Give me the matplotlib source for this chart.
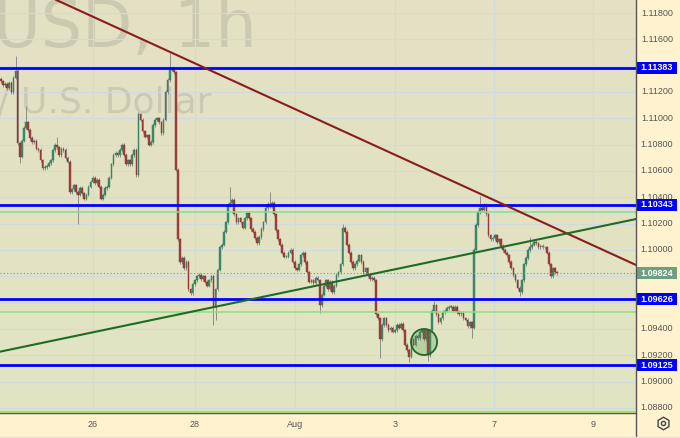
import numpy as np
import matplotlib.pyplot as plt
from matplotlib.patches import Rectangle, Ellipse
from matplotlib import transforms

# hourly closes, EURUSD 1h
closes = [
    1.1128, 1.1125, 1.1126, 1.1123, 1.1127, 1.1120, 1.1131, 1.1136, 1.1081, 1.1071, 1.1083, 1.1093,
    1.1097, 1.1091, 1.1085, 1.1082, 1.1083, 1.1077, 1.1076, 1.1068, 1.1062, 1.1063, 1.1064, 1.1066,
    1.1068, 1.1076, 1.1080, 1.1078, 1.1072, 1.1077, 1.1076, 1.1070, 1.1067, 1.1044, 1.1046, 1.1049,
    1.1044, 1.1042, 1.1047, 1.1043, 1.1039, 1.1042, 1.1048, 1.1052, 1.1055, 1.1051, 1.1053, 1.1048,
    1.1039, 1.1042, 1.1047, 1.1048, 1.1055, 1.1065, 1.1072, 1.1074, 1.1072, 1.1076, 1.1080, 1.1072,
    1.1065, 1.1068, 1.1065, 1.1072, 1.1076, 1.1057, 1.1103, 1.1099, 1.1090, 1.1086, 1.1087, 1.1080,
    1.1082, 1.1095, 1.1099, 1.1100, 1.1097, 1.1089, 1.1099, 1.1120, 1.1129, 1.1137, 1.1138, 1.1135,
    1.1061, 1.1008, 1.0991, 1.0994, 1.0986, 1.0991, 1.0970, 1.0967, 1.0974, 1.0977, 1.0980, 1.0981,
    1.0978, 1.0980, 1.0976, 1.0973, 1.0977, 1.0980, 1.0957, 1.0970, 1.0985, 1.1002, 1.1004, 1.1014,
    1.1021, 1.1034, 1.1036, 1.1038, 1.1027, 1.1021, 1.1024, 1.1021, 1.1017, 1.1024, 1.1028, 1.1024,
    1.1016, 1.1014, 1.1009, 1.1005, 1.1010, 1.1016, 1.1021, 1.1032, 1.1035, 1.1033, 1.1036, 1.1027,
    1.1015, 1.1008, 1.1004, 1.0998, 1.0995, 1.0995, 1.0998, 1.1000, 1.0991, 1.0986, 1.0985, 1.0989,
    1.0996, 1.0998, 1.0991, 1.0983, 1.0976, 1.0977, 1.0975, 1.0979, 1.0977, 1.0958, 1.0966, 1.0973,
    1.0977, 1.0970, 1.0976, 1.0968, 1.0973, 1.0981, 1.0983, 1.0989, 1.1017, 1.1014, 1.1004, 1.0998,
    1.0991, 1.0986, 1.0989, 1.0992, 1.0996, 1.0991, 1.0983, 1.0986, 1.0981, 1.0978, 1.0979, 1.0977,
    1.0951, 1.0948, 1.0932, 1.0943, 1.0948, 1.0943, 1.0939, 1.0941, 1.0938, 1.0939, 1.0943, 1.0941,
    1.0944, 1.0939, 1.0928, 1.0924, 1.0919, 1.0932, 1.0928, 1.0935, 1.0933, 1.0938, 1.0939, 1.0932,
    1.0939, 1.0920, 1.0939, 1.0954, 1.0958, 1.0951, 1.0945, 1.0948, 1.0953, 1.0954, 1.0956, 1.0957,
    1.0957, 1.0954, 1.0957, 1.0953, 1.0951, 1.0952, 1.0948, 1.0947, 1.0942, 1.0945, 1.0941, 1.1000,
    1.1019, 1.1029, 1.1032, 1.1030, 1.1034, 1.1027, 1.1011, 1.1008, 1.1009, 1.1011, 1.1006, 1.1008,
    1.1003, 1.1000, 1.0998, 1.0996, 1.0991, 1.0986, 1.0981, 1.0977, 1.0971, 1.0968, 1.0977, 1.0989,
    1.0994, 1.1000, 1.1002, 1.1004, 1.1006, 1.1005, 1.1002, 1.1003, 1.1002, 1.1002, 1.0998, 1.0989,
    1.0980, 1.0986, 1.0983, 1.09824,
]
first_open = 1.1130

# long wicks that stick out
spike_highs = {7: 1.1147, 12: 1.1109, 27: 1.1086, 66: 1.1105, 81: 1.1150, 110: 1.1048,
               129: 1.1044, 164: 1.1020, 208: 1.0961, 230: 1.1041, 254: 1.1010}
spike_lows = {9: 1.1066, 37: 1.1020, 102: 1.0943, 103: 1.0947, 153: 1.0952, 182: 1.0918,
              196: 1.0915, 205: 1.0916, 226: 1.0933, 249: 1.0965}

# horizontal levels
blue_levels = [1.11383, 1.10343, 1.09626, 1.09125]
mint_level = 1.10290
lime_levels = [1.09530, 1.08770]
last_price = 1.09824

# trend lines (bar, price)
red_trend = [(30, 1.11874), (300, 1.09921)]
green_trend = [(0, 1.09229), (300, 1.10219)]
circle_bar, circle_price = 203.1, 1.09301

grid_prices = [1.088 + 0.002 * k for k in range(16)]
axis_prices = [1.118, 1.116, 1.112, 1.110, 1.108, 1.106, 1.104, 1.102, 1.100,
               1.094, 1.092, 1.090, 1.088]
day_labels = ["26", "28", "Aug", "3", "7", "9"]
day_bars = [44.2, 93.1, 141.1, 189.1, 236.7, 284.2]

W, H = 680, 438
plt.rcParams['font.family'] = ['Liberation Sans', 'DejaVu Sans']
fig = plt.figure(figsize=(W / 100, H / 100), dpi=100, facecolor='#fff2cf')
ax = fig.add_axes([0, 25 / H, 636 / W, 413 / H])
xmin, xmax = -0.48, 304.85
ymin, ymax = 1.087616, 1.118988
ax.set_xlim(xmin, xmax)
ax.set_ylim(ymin, ymax)

# background gradient
grad = np.linspace(0, 1, 256)[:, None]
top = np.array([229, 224, 197]) / 255
bot = np.array([224, 229, 194]) / 255
img = top[None, None, :] * (1 - grad[:, :, None]) + bot[None, None, :] * grad[:, :, None]
ax.imshow(img, extent=[xmin, xmax, ymin, ymax], aspect='auto', origin='upper', zorder=0)

ax.set_yticks(grid_prices)
ax.set_yticklabels([])
ax.set_xticks(day_bars)
ax.set_xticklabels(day_labels)
ax.tick_params(axis='both', length=0)
ax.tick_params(axis='x', pad=5, labelsize=6.5, labelcolor='#555555')
ax.grid(True, color='#cfdbe0', lw=0.8, zorder=0.5)
for s in ['top', 'left', 'right']:
    ax.spines[s].set_visible(False)
ax.spines['bottom'].set_color('#555555')
ax.spines['bottom'].set_linewidth(1.0)

# watermark
ax.text(257 / W, 1 - 47 / H, "EURUSD, 1h", transform=fig.transFigure, ha='right',
        va='baseline', fontsize=47, color='#808078', alpha=0.24, zorder=1,
        family='DejaVu Sans', clip_on=True)
ax.text(211 / W, 1 - 112 / H, "Euro / U.S. Dollar", transform=fig.transFigure, ha='right',
        va='baseline', fontsize=26, color='#808078', alpha=0.24, zorder=1,
        family='DejaVu Sans', clip_on=True)

# candles
c = np.array(closes)
o = np.array([first_open] + closes[:-1])
idx = np.arange(len(c))
pad = 0.00013
hi = np.maximum(o, c) + pad
lo = np.minimum(o, c) - pad
for k, v in spike_highs.items():
    hi[k] = v
for k, v in spike_lows.items():
    lo[k] = v
up = c >= o
ax.vlines(idx, lo, hi, color='#8e8e88', lw=0.7, zorder=2)
body_h = np.maximum(np.abs(c - o), 0.00003)
ax.bar(idx[up], body_h[up], bottom=np.minimum(o, c)[up], width=0.8,
       color='#3f8c6c', edgecolor='#2f7a5a', lw=0.3, zorder=3)
ax.bar(idx[~up], body_h[~up], bottom=np.minimum(o, c)[~up], width=0.8,
       color='#a33f3c', edgecolor='#8a2f2c', lw=0.3, zorder=3)

# levels
for lv in blue_levels:
    ax.axhline(lv, color='#0000ff', lw=2.0, zorder=5)
ax.axhline(mint_level, color='#7fdca6', lw=1.1, zorder=4)
ax.axhline(lime_levels[0], color='#8ee07a', lw=1.1, zorder=4)
ax.axhline(lime_levels[1], color='#a8d878', lw=1.5, zorder=4)
ax.axhline(last_price, color='#6e9f80', lw=0.8, ls=(0, (1, 2)), zorder=4)

# trend lines
ax.axline(red_trend[0], red_trend[1], color='#8b1c1c', lw=1.5, zorder=6)
ax.axline(green_trend[0], green_trend[1], color='#1f6b25', lw=1.5, zorder=6)
ax.add_patch(Ellipse((circle_bar, circle_price), 12.5, 0.00198, facecolor='#3f9a45',
                     alpha=0.25, zorder=6))
ax.add_patch(Ellipse((circle_bar, circle_price), 12.5, 0.00198, facecolor='none',
                     edgecolor='#22672a', lw=1.3, zorder=7))

# price axis
tr = transforms.blended_transform_factory(fig.transFigure, ax.transData)
for p in axis_prices:
    ax.text(657 / W, p, f"{p:.5f}", transform=tr, ha='center', va='center',
            fontsize=6.5, color='#555555', clip_on=False, zorder=8)
box_h = 0.00088
for lv, col in [(b, '#0000ff') for b in blue_levels] + [(last_price, '#6e9f80')]:
    ax.add_patch(Rectangle((637 / W, lv - box_h / 2), 40 / W, box_h, transform=tr,
                           facecolor=col, edgecolor='none', clip_on=False, zorder=9))
    ax.text(657 / W, lv, f"{lv:.5f}", transform=tr, ha='center', va='center',
            fontsize=6.5, color='white', fontweight='bold', clip_on=False, zorder=10)

# separators and settings icon
fig.add_artist(plt.Line2D([636 / W, 636 / W], [0, 1], color='#555555', lw=1.0))
fig.add_artist(plt.Line2D([0, 1], [1.5 / H, 1.5 / H], color='#e6e2d6', lw=1.0))
fig.add_artist(plt.Line2D([663 / W], [1 - 423 / H], marker='h', ms=9, mfc='none',
                          mec='#444444', mew=1.0))
fig.add_artist(plt.Line2D([663 / W], [1 - 423 / H], marker='o', ms=3, mfc='none',
                          mec='#444444', mew=1.0))

fig.savefig('out.png', dpi=100, facecolor=fig.get_facecolor())
